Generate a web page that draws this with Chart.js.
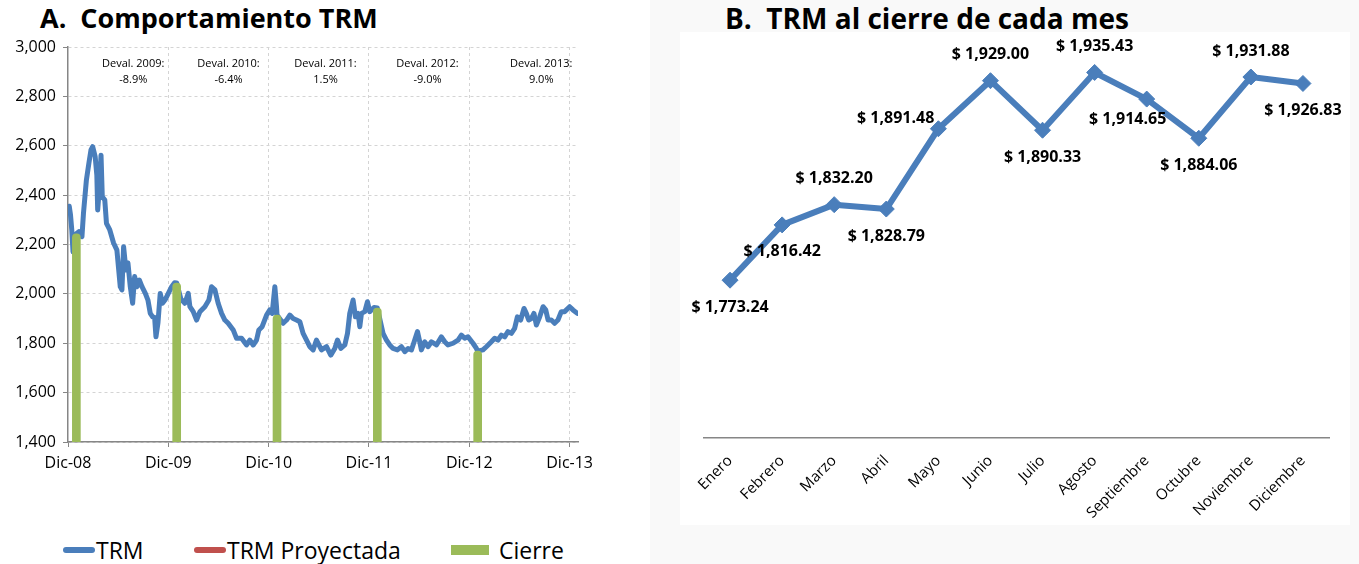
<!DOCTYPE html>
<html lang="es">
<head>
<meta charset="utf-8">
<title>TRM</title>
<script src="https://cdn.jsdelivr.net/npm/chart.js@4.4.1/dist/chart.umd.min.js"></script>
<style>
	body { margin: 0; width: 1359px; height: 564px; position: relative; overflow: hidden; background: #fff; font-family: 'Open Sans', sans-serif; color: #000; }
	.titulo { position: absolute; top: 0; font-weight: bold; font-size: 27px; line-height: 36px; white-space: pre; }
	#panelB { position: absolute; left: 650px; top: 0; width: 709px; height: 564px; background: #f9f9f9; }
	#graficoComportamiento { position: absolute; left: 0; top: 30px; }
	#graficoCierreMes { position: absolute; left: 680px; top: 32px; background: #fff; }
	.itemLeyenda { position: absolute; top: 535px; height: 30px; display: flex; align-items: center; font-size: 23px; white-space: pre; }
	.itemLeyenda .linea { width: 32px; height: 6px; border-radius: 3px; margin-right: 1px; }
	.itemLeyenda .caja { width: 38px; height: 10px; margin-right: 10px; }
</style>
</head>
<body>
<div id="panelB"></div>
<div class="titulo" style="left: 40px;">A.  Comportamiento TRM</div>
<div class="titulo" style="left: 725px; font-size: 28px;">B.  TRM al cierre de cada mes</div>
<canvas id="graficoComportamiento" width="610" height="470"></canvas>
<canvas id="graficoCierreMes" width="670" height="493"></canvas>
<div id="leyendaComportamiento"></div>

<script>
// meses contados desde el 1 de diciembre de 2008
var mesesTRM = [
	0.00, 0.15, 0.30, 0.45, 0.60, 0.80, 1.00, 1.30, 1.67, 1.85, 2.20, 2.50, 2.75, 2.95, 3.25, 3.45, 3.55, 3.75, 3.95, 4.10,
	4.40, 4.60, 5.00, 5.45, 5.85, 6.25, 6.45, 6.65, 6.93, 7.17, 7.45, 7.73, 7.97, 8.25, 8.53, 8.85, 9.25, 9.56, 9.84, 10.12,
	10.36, 10.52, 10.76, 11.03, 11.30, 11.60, 12.00, 12.40, 12.75, 13.00, 13.50, 13.98, 14.38, 14.58, 14.98, 15.38, 15.78, 16.37, 16.85, 17.17,
	17.57, 17.96, 18.37, 18.76, 19.16, 19.76, 20.16, 20.76, 21.36, 21.75, 22.15, 22.55, 22.83, 23.22, 23.75, 24.14, 24.42, 24.74, 24.94, 25.00,
	25.73, 26.14, 26.53, 26.93, 27.33, 27.73, 28.12, 28.53, 28.92, 29.32, 29.72, 30.32, 30.92, 31.43, 31.91, 32.23, 32.63, 33.11, 33.43, 33.70,
	34.10, 34.38, 34.70, 34.90, 35.10, 35.50, 35.82, 36.09, 36.60, 37.00, 37.68, 38.09, 38.48, 38.88, 39.40, 39.88, 40.28, 40.67, 41.08, 41.47,
	41.80, 42.07, 42.27, 42.67, 43.06, 43.47, 44.07, 44.66, 45.06, 45.45, 46.05, 46.65, 47.05, 47.45, 47.84, 48.44, 48.85, 49.00, 49.63, 50.04,
	50.64, 51.03, 51.43, 51.83, 52.23, 52.62, 53.03, 53.42, 53.75, 54.14, 54.54, 54.82, 55.10, 55.42, 55.73, 56.02, 56.42, 56.82, 57.14, 57.42,
	57.81, 58.20, 58.60, 59.00, 59.40, 60.00, 60.40, 60.92
];
var valoresTRM = [
	2340, 2355, 2320, 2260, 2170, 2225, 2244, 2252, 2232, 2326, 2461, 2530, 2583, 2596, 2556, 2480, 2340, 2430, 2562, 2394,
	2380, 2286, 2259, 2206, 2177, 2029, 2016, 2191, 2097, 2125, 2029, 1962, 2070, 2029, 2056, 2029, 2002, 1975, 1921, 1907,
	1905, 1826, 1882, 2002, 1962, 1975, 2002, 2029, 2045, 2044, 1980, 1962, 2002, 1948, 1928, 1894, 1928, 1948, 1975, 2029,
	2016, 1962, 1921, 1894, 1881, 1854, 1820, 1820, 1793, 1813, 1793, 1813, 1854, 1867, 1914, 1935, 1921, 2029, 1948, 1914,
	1881, 1894, 1914, 1900, 1894, 1887, 1840, 1813, 1786, 1773, 1813, 1773, 1786, 1752, 1779, 1813, 1779, 1793, 1840, 1921,
	1975, 1907, 1921, 1867, 1921, 1928, 1968, 1928, 1945, 1943, 1840, 1813, 1793, 1779, 1773, 1786, 1766, 1779, 1773, 1813,
	1847, 1806, 1773, 1806, 1786, 1806, 1793, 1826, 1806, 1793, 1800, 1813, 1833, 1820, 1826, 1800, 1779, 1768, 1773, 1786,
	1806, 1820, 1813, 1833, 1826, 1847, 1840, 1860, 1907, 1894, 1941, 1921, 1894, 1900, 1921, 1874, 1907, 1948, 1935, 1894,
	1894, 1881, 1894, 1928, 1928, 1948, 1935, 1921
];
var mesesCierre = [1, 13, 25, 37, 49];
var valoresCierre = [2243.59, 2044.23, 1913.98, 1942.70, 1768.23];
var etiquetasDic = ['Dic-08', 'Dic-09', 'Dic-10', 'Dic-11', 'Dic-12', 'Dic-13'];

var textosDeval = ['Deval. 2009:', 'Deval. 2010:', 'Deval. 2011:', 'Deval. 2012:', 'Deval. 2013:'];
var valoresDeval = ['-8.9%', '-6.4%', '1.5%', '-9.0%', '9.0%'];
var mesesDeval = [7.8, 19.2, 30.8, 43.0, 56.6];

var mesesAnio = ['Enero', 'Febrero', 'Marzo', 'Abril', 'Mayo', 'Junio', 'Julio', 'Agosto', 'Septiembre', 'Octubre', 'Noviembre', 'Diciembre'];
var cierreMensual2013 = [1773.24, 1816.42, 1832.20, 1828.79, 1891.48, 1929.00, 1890.33, 1935.43, 1914.65, 1884.06, 1931.88, 1926.83];
var posicionEtiquetas = ['abajo', 'abajo', 'arriba', 'abajo', 'izquierda', 'arriba', 'abajo', 'arriba', 'abajoIzquierda', 'abajo', 'arriba', 'abajo'];

var TRM = TRM || {};

TRM.GraficoComportamiento = (function() {

	function GraficoComportamiento() {
		this.ctx = document.getElementById('graficoComportamiento').getContext('2d');
	}

	var pluginDeval = {
		id: 'devaluacion',
		afterDraw: function(chart) {
			var ctx = chart.ctx;
			var area = chart.chartArea;
			ctx.save();
			ctx.font = '11px "Open Sans"';
			ctx.fillStyle = '#000';
			ctx.textAlign = 'center';
			ctx.textBaseline = 'middle';
			mesesDeval.forEach(function(mes, i) {
				var x = chart.scales.x.getPixelForValue(mes);
				ctx.fillText(textosDeval[i], x, area.top + 17);
				ctx.fillText(valoresDeval[i], x, area.top + 33);
			});
			ctx.restore();
		}
	};

	GraficoComportamiento.prototype.iniciar = function() {
		var puntosTRM = mesesTRM.map(function(mes, i) {
			return { x: mes, y: valoresTRM[i] };
		});
		var puntosCierre = mesesCierre.map(function(mes, i) {
			return { x: mes, y: valoresCierre[i] };
		});

		this.grafico = new Chart(this.ctx, {
			type: 'line',
			data: {
				datasets: [{
					type: 'bar',
					label: 'Cierre',
					data: puntosCierre,
					backgroundColor: '#9bbb59',
					barThickness: 8,
					borderRadius: 4,
					order: 1
				},
				{
					label: 'TRM',
					data: puntosTRM,
					borderColor: '#4a7ebb',
					backgroundColor: '#4a7ebb',
					borderWidth: 5,
					borderJoinStyle: 'round',
					borderCapStyle: 'round',
					pointRadius: 0,
					tension: 0,
					order: 2
				},
				{
					label: 'TRM Proyectada',
					data: [],
					borderColor: '#c0504d',
					backgroundColor: '#c0504d',
					order: 3
				}]
			},
			options: {
				responsive: false,
				animation: false,
				layout: { padding: { top: 17, right: 32, bottom: 0, left: 0 } },
				plugins: {
					legend: { display: false },
					tooltip: { enabled: false }
				},
				scales: {
					x: {
						type: 'linear',
						bounds: 'data',
						min: 0,
						max: 61,
						offset: false,
						ticks: {
							stepSize: 6,
							includeBounds: false,
							autoSkip: false,
							maxRotation: 0,
							padding: 7,
							color: '#000',
							font: { family: 'Open Sans', size: 16 },
							callback: function(valor) {
								return valor % 12 === 0 ? etiquetasDic[valor / 12] : null;
							}
						},
						grid: {
							offset: false,
							tickLength: 5,
							color: function(c) {
								return c.tick && c.tick.value > 0 && c.tick.value % 6 === 0 ? '#d4d4d4' : 'rgba(0,0,0,0)';
							},
							tickColor: function(c) {
								return c.tick && c.tick.value % 12 === 0 ? '#868686' : 'rgba(0,0,0,0)';
							}
						},
						border: { color: '#868686', width: 1.5, dash: [3, 3] },
						afterFit: function(escala) { escala.height = 58; }
					},
					y: {
						min: 1400,
						max: 3000,
						ticks: {
							stepSize: 200,
							padding: 7,
							color: '#000',
							font: { family: 'Open Sans', size: 16 },
							callback: function(valor) { return valor.toLocaleString('en-US'); }
						},
						grid: { color: '#d4d4d4', tickColor: '#868686', tickLength: 5 },
						border: { color: '#868686', width: 1.5, dash: [3, 3] },
						afterFit: function(escala) { escala.width = 68; }
					}
				}
			},
			plugins: [pluginDeval]
		});

		construirLeyenda(this.grafico);
	};

	function construirLeyenda(grafico) {
		var contenedor = document.getElementById('leyendaComportamiento');
		var izquierdas = { 'TRM': 63, 'TRM Proyectada': 194, 'Cierre': 451 };
		grafico.data.datasets.slice().reverse().forEach(function(ds) {
			var item = document.createElement('div');
			item.className = 'itemLeyenda';
			item.style.left = izquierdas[ds.label] + 'px';
			var marca = document.createElement('span');
			marca.className = ds.type === 'bar' ? 'caja' : 'linea';
			marca.style.background = ds.backgroundColor;
			var texto = document.createElement('span');
			texto.textContent = ds.label;
			item.appendChild(marca);
			item.appendChild(texto);
			contenedor.appendChild(item);
		});
	}

	return GraficoComportamiento;

}());

TRM.GraficoCierreMes = (function() {

	function GraficoCierreMes() {
		this.ctx = document.getElementById('graficoCierreMes').getContext('2d');
	}

	var desplazamientos = {
		arriba: { dx: 0, dy: -26, alinear: 'center' },
		abajo: { dx: 0, dy: 27, alinear: 'center' },
		izquierda: { dx: -4, dy: -10, alinear: 'right' },
		abajoIzquierda: { dx: -19, dy: 20, alinear: 'center' }
	};

	function formatoPeso(valor) {
		return '$ ' + valor.toLocaleString('en-US', { minimumFractionDigits: 2, maximumFractionDigits: 2 });
	}

	var pluginEtiquetas = {
		id: 'etiquetasCierre',
		afterDatasetsDraw: function(chart) {
			var ctx = chart.ctx;
			ctx.save();
			ctx.font = 'bold 16px "Open Sans"';
			ctx.fillStyle = '#000';
			ctx.textBaseline = 'middle';
			chart.getDatasetMeta(0).data.forEach(function(punto, i) {
				var d = desplazamientos[posicionEtiquetas[i]];
				ctx.textAlign = d.alinear;
				ctx.fillText(formatoPeso(cierreMensual2013[i]), punto.x + d.dx, punto.y + d.dy);
			});
			ctx.restore();
		}
	};

	GraficoCierreMes.prototype.iniciar = function() {
		this.grafico = new Chart(this.ctx, {
			type: 'line',
			data: {
				labels: mesesAnio,
				datasets: [{
					label: 'TRM cierre 2013',
					data: cierreMensual2013,
					borderColor: '#4a7ebb',
					borderWidth: 6,
					borderJoinStyle: 'round',
					pointStyle: 'rectRot',
					pointRadius: 8,
					pointBackgroundColor: '#4a7ebb',
					pointBorderColor: '#4a7ebb',
					pointBorderWidth: 1,
					tension: 0
				}]
			},
			options: {
				responsive: false,
				animation: false,
				layout: { padding: { top: 8, right: 21, bottom: 0, left: 24 } },
				plugins: {
					legend: { display: false },
					tooltip: { enabled: false }
				},
				scales: {
					x: {
						offset: true,
						grid: { display: false, drawTicks: false },
						border: { color: '#868686', width: 1.5 },
						ticks: {
							minRotation: 45,
							maxRotation: 45,
							padding: 14,
							autoSkip: false,
							color: '#000',
							font: { family: 'Open Sans', size: 15 }
						},
						afterFit: function(escala) { escala.height = 87; }
					},
					y: {
						display: false,
						min: 1650,
						max: 1960
					}
				}
			},
			plugins: [pluginEtiquetas]
		});
	};

	return GraficoCierreMes;

}());

window.addEventListener('load', function() {
	var graficoComportamiento = new TRM.GraficoComportamiento();
	graficoComportamiento.iniciar();

	var graficoCierreMes = new TRM.GraficoCierreMes();
	graficoCierreMes.iniciar();
});
</script>
</body>
</html>
